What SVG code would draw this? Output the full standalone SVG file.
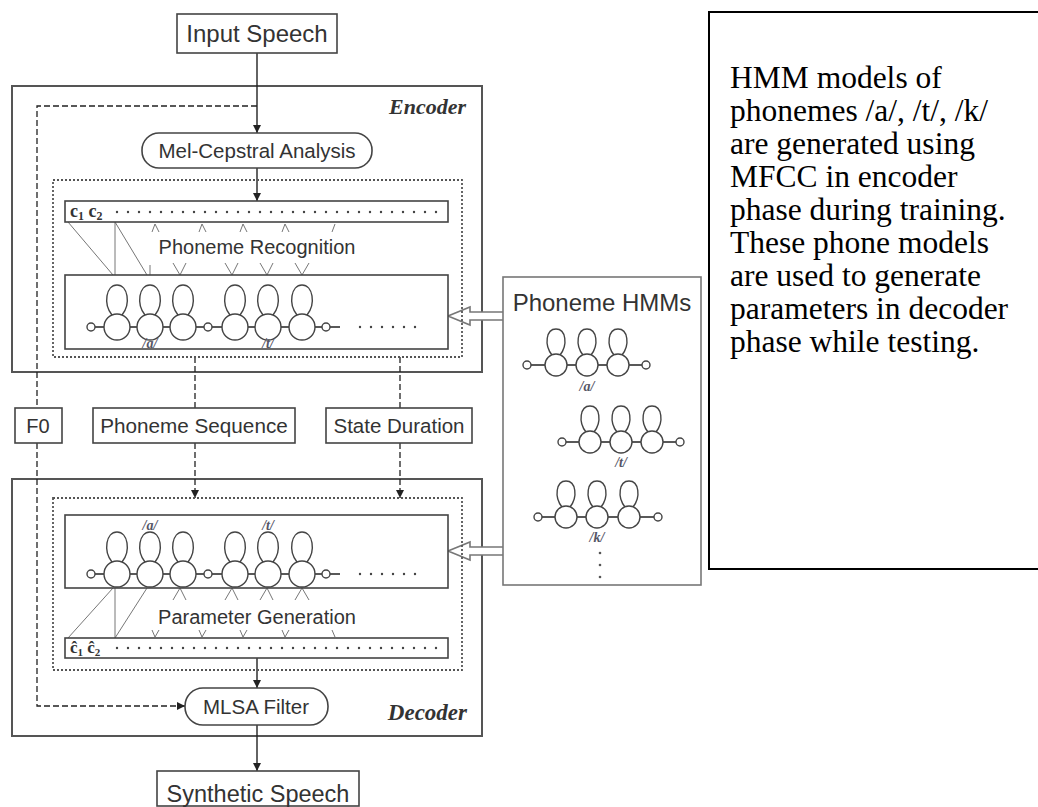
<svg xmlns="http://www.w3.org/2000/svg" width="1038" height="807" viewBox="0 0 1038 807">
  <style>
    .box { fill: #fff; stroke: #444; stroke-width: 1.6; }
    .frame { fill: none; stroke: #555; stroke-width: 2; }
    .dotbox { fill: none; stroke: #555; stroke-width: 1.8; stroke-dasharray: 2 2; }
    .lbl { font-family: "Liberation Sans", Arial, sans-serif; fill: #333; text-anchor: middle; }
    .ital { font-family: "Liberation Serif", "Times New Roman", serif; font-style: italic; font-weight: bold; fill: #333; }
    .ph { font-family: "Liberation Serif", serif; font-style: italic; font-weight: bold; font-size: 14px; fill: #556; text-anchor: middle; }
    .conn { fill: none; stroke: #222; stroke-width: 1.4; }
    .dash { fill: none; stroke: #222; stroke-width: 1.3; stroke-dasharray: 6 3; }
    .thin { fill: none; stroke: #666; stroke-width: 0.9; }
    .st { fill: #fff; stroke: #444; stroke-width: 1.4; }
    .dots { stroke: #444; stroke-width: 2.4; stroke-linecap: round; stroke-dasharray: 0 11; }
    .hollow { fill: #fff; stroke: #777; stroke-width: 1.6; }
    .note { font-family: "Liberation Serif", "Times New Roman", serif; font-size: 31.5px; fill: #000; }
  </style>
  <defs>
    <marker id="ah" viewBox="0 0 10 10" refX="10" refY="5" markerWidth="8" markerHeight="8" markerUnits="userSpaceOnUse" orient="auto">
      <path d="M0,0 L10,5 L0,10 z" fill="#222"/>
    </marker>
    <!-- one HMM state: self-loop above a circle -->
    <g id="state">
      <path class="st" d="M-5,-12 C-14,-23 -11,-42 0,-42 C11,-42 14,-23 5,-12"/>
      <circle class="st" r="13"/>
    </g>
    <g id="stateS">
      <path class="st" d="M-4,-10 C-12,-20 -10,-36 0,-36 C10,-36 12,-20 4,-10"/>
      <circle class="st" r="11"/>
    </g>
  </defs>

  <!-- outer blocks -->
  <g id="encoder">
    <rect class="frame" x="12" y="86" width="470" height="286"/>
    <text class="ital" x="466" y="114" font-size="22" text-anchor="end">Encoder</text>
  </g>
  <g id="decoder">
    <rect class="frame" x="12" y="479" width="470" height="257"/>
    <text class="ital" x="467" y="720" font-size="23" text-anchor="end">Decoder</text>
  </g>

  <g id="connectors">
    <line class="conn" x1="257" y1="53" x2="257" y2="133" marker-end="url(#ah)"/>
    <line class="conn" x1="257" y1="168" x2="257" y2="201" marker-end="url(#ah)"/>
    <path class="dash" d="M257,106 H37 V408"/>
    <path class="dash" d="M37,443 V706 H185" marker-end="url(#ah)"/>
    <line class="dash" x1="195" y1="357" x2="195" y2="408"/>
    <line class="dash" x1="400" y1="357" x2="400" y2="408"/>
    <line class="dash" x1="195" y1="443" x2="195" y2="498" marker-end="url(#ah)"/>
    <line class="dash" x1="400" y1="443" x2="400" y2="498" marker-end="url(#ah)"/>
    <line class="conn" x1="257" y1="658" x2="257" y2="688" marker-end="url(#ah)"/>
    <line class="conn" x1="257" y1="725" x2="257" y2="771" marker-end="url(#ah)"/>
    <!-- feature vector to state links, encoder -->
    <line class="thin" x1="68" y1="222" x2="113" y2="275"/>
    <line class="thin" x1="115" y1="222" x2="115" y2="275"/>
    <line class="thin" x1="115" y1="222" x2="147" y2="275"/>
    <path class="thin" d="M152,232 L155,224 L159,232 M199,232 L202,224 L206,232 M240,232 L243,224 L247,232 M282,232 L285,224 L289,232 M332,232 L335,224"/>
    <path class="thin" d="M150,265 L150,275 M173,263 L180,275 L186,263 M225,263 L232,275 L238,263 M260,263 L267,275 L273,263 M295,263 L302,275 L309,263"/>
    <!-- state to parameter links, decoder -->
    <line class="thin" x1="113" y1="588" x2="68" y2="638"/>
    <line class="thin" x1="115" y1="588" x2="115" y2="638"/>
    <line class="thin" x1="147" y1="588" x2="115" y2="638"/>
    <path class="thin" d="M173,600 L180,588 L186,600 M225,600 L232,588 L238,600 M260,600 L267,588 L273,600 M295,600 L302,588 L309,600"/>
    <path class="thin" d="M152,630 L155,637 L159,630 M199,630 L202,637 L206,630 M240,630 L243,637 L247,630 M282,630 L285,637 L289,630 M332,630 L335,637"/>
    <!-- model store feeding both HMM chains -->
    <path class="hollow" d="M503,312 H470 V307 L448,316 L470,325 V320 H503"/>
    <path class="hollow" d="M503,547 H470 V542 L448,551 L470,560 V555 H503"/>
  </g>

  <g id="input-speech">
    <rect class="box" x="177" y="14" width="160" height="39"/>
    <text class="lbl" x="257" y="42" font-size="24">Input Speech</text>
  </g>

  <g id="mel-cepstral">
    <rect class="box" x="142" y="133" width="230" height="35" rx="17"/>
    <text class="lbl" x="257" y="158" font-size="20.5">Mel-Cepstral Analysis</text>
  </g>

  <g id="phoneme-recognition">
    <rect class="dotbox" x="53" y="180" width="409" height="177"/>
    <rect class="box" x="65" y="201" width="383" height="21"/>
    <text x="70" y="217" font-family="Liberation Serif, serif" font-weight="bold" font-size="18" fill="#333">c<tspan font-size="12" dy="3">1</tspan><tspan dy="-3"> c</tspan><tspan font-size="12" dy="3">2</tspan></text>
    <line class="dots" x1="117" y1="212" x2="440" y2="212"/>
    <text class="lbl" x="257" y="254" font-size="20">Phoneme Recognition</text>
    <rect class="box" x="65" y="275" width="383" height="74"/>
    <line class="conn" x1="95" y1="327" x2="340" y2="327"/>
    <circle class="st" cx="91" cy="327" r="4"/>
    <circle class="st" cx="208" cy="327" r="4"/>
    <circle class="st" cx="326" cy="327" r="4"/>
    <use href="#state" x="117" y="327"/>
    <use href="#state" x="150" y="327"/>
    <use href="#state" x="183" y="327"/>
    <use href="#state" x="235" y="327"/>
    <use href="#state" x="268" y="327"/>
    <use href="#state" x="302" y="327"/>
    <line class="dots" x1="360" y1="327" x2="418" y2="327" stroke-width="2"/>
    <text class="ph" x="150" y="348">/a/</text>
    <text class="ph" x="268" y="348">/t/</text>
  </g>

  <g id="f0">
    <rect class="box" x="15" y="408" width="47" height="35"/>
    <text class="lbl" x="38" y="433" font-size="20">F0</text>
  </g>

  <g id="phoneme-sequence">
    <rect class="box" x="93" y="408" width="202" height="35"/>
    <text class="lbl" x="194" y="433" font-size="20.7">Phoneme Sequence</text>
  </g>

  <g id="state-duration">
    <rect class="box" x="326" y="408" width="146" height="35"/>
    <text class="lbl" x="399" y="433" font-size="20.5">State Duration</text>
  </g>

  <g id="parameter-generation">
    <rect class="dotbox" x="53" y="498" width="409" height="172"/>
    <rect class="box" x="65" y="515" width="383" height="73"/>
    <text class="ph" x="150" y="530">/a/</text>
    <text class="ph" x="268" y="530">/t/</text>
    <line class="conn" x1="95" y1="574" x2="340" y2="574"/>
    <circle class="st" cx="91" cy="574" r="4"/>
    <circle class="st" cx="208" cy="574" r="4"/>
    <circle class="st" cx="326" cy="574" r="4"/>
    <use href="#state" x="117" y="574"/>
    <use href="#state" x="150" y="574"/>
    <use href="#state" x="183" y="574"/>
    <use href="#state" x="235" y="574"/>
    <use href="#state" x="268" y="574"/>
    <use href="#state" x="302" y="574"/>
    <line class="dots" x1="360" y1="574" x2="418" y2="574" stroke-width="2"/>
    <text class="lbl" x="257" y="624" font-size="20">Parameter Generation</text>
    <rect class="box" x="65" y="638" width="383" height="20"/>
    <text x="70" y="653" font-family="Liberation Serif, serif" font-weight="bold" font-size="17" fill="#333">ĉ<tspan font-size="11" dy="3">1</tspan><tspan dy="-3"> ĉ</tspan><tspan font-size="11" dy="3">2</tspan></text>
    <line class="dots" x1="117" y1="648" x2="440" y2="648"/>
  </g>

  <g id="mlsa-filter">
    <rect class="box" x="185" y="688" width="143" height="37" rx="18"/>
    <text class="lbl" x="256" y="714" font-size="20.5">MLSA Filter</text>
  </g>

  <g id="synthetic-speech">
    <rect class="box" x="157" y="771" width="202" height="35"/>
    <text class="lbl" x="258" y="802" font-size="23.5">Synthetic Speech</text>
  </g>

  <g id="phoneme-hmms">
    <rect class="box" x="503" y="277" width="198" height="308" style="stroke:#777"/>
    <text class="lbl" x="602" y="311" font-size="24">Phoneme HMMs</text>
    <line class="conn" x1="527" y1="365" x2="646" y2="365"/>
    <circle class="st" cx="527" cy="365" r="4"/>
    <circle class="st" cx="646" cy="365" r="4"/>
    <use href="#stateS" x="556" y="365"/>
    <use href="#stateS" x="587" y="365"/>
    <use href="#stateS" x="618" y="365"/>
    <text class="ph" x="587" y="391">/a/</text>
    <line class="conn" x1="562" y1="442" x2="680" y2="442"/>
    <circle class="st" cx="562" cy="442" r="4"/>
    <circle class="st" cx="680" cy="442" r="4"/>
    <use href="#stateS" x="590" y="442"/>
    <use href="#stateS" x="621" y="442"/>
    <use href="#stateS" x="652" y="442"/>
    <text class="ph" x="621" y="467">/t/</text>
    <line class="conn" x1="538" y1="517" x2="658" y2="517"/>
    <circle class="st" cx="538" cy="517" r="4"/>
    <circle class="st" cx="658" cy="517" r="4"/>
    <use href="#stateS" x="566" y="517"/>
    <use href="#stateS" x="597" y="517"/>
    <use href="#stateS" x="629" y="517"/>
    <text class="ph" x="597" y="542">/k/</text>
    <circle cx="600" cy="553" r="1.3" fill="#555"/>
    <circle cx="600" cy="565" r="1.3" fill="#555"/>
    <circle cx="600" cy="577" r="1.3" fill="#555"/>
  </g>

  <g id="note">
    <rect x="709" y="12" width="340" height="557" fill="none" stroke="#000" stroke-width="2"/>
    <text class="note" x="730">
      <tspan x="730" y="88">HMM models of</tspan>
      <tspan x="730" y="121">phonemes /a/, /t/, /k/</tspan>
      <tspan x="730" y="154">are generated using</tspan>
      <tspan x="730" y="187">MFCC in encoder</tspan>
      <tspan x="730" y="220">phase during training.</tspan>
      <tspan x="730" y="253">These phone models</tspan>
      <tspan x="730" y="286">are used to generate</tspan>
      <tspan x="730" y="319">parameters in decoder</tspan>
      <tspan x="730" y="352">phase while testing.</tspan>
    </text>
  </g>
</svg>
